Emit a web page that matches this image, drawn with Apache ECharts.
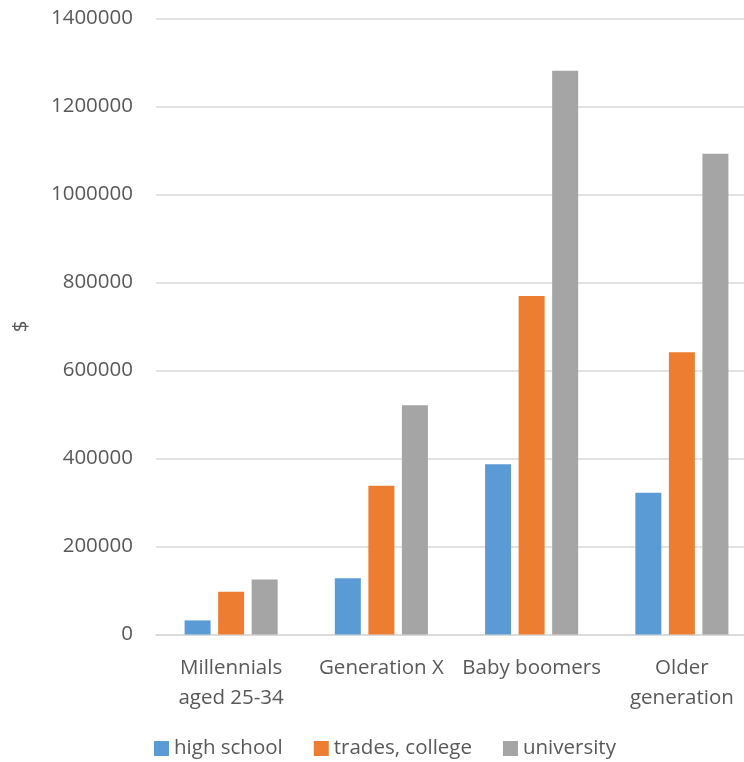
<!DOCTYPE html>
<html>
<head>
<meta charset="utf-8">
<script src="https://cdn.jsdelivr.net/npm/echarts@6/dist/echarts.min.js"></script>
<style>
  html, body { margin: 0; padding: 0; background: #fff; overflow: hidden; }
  body { width: 744px; height: 762px; }
  /* the plot area runs a little past the right edge of the page */
  #chart { width: 757px; height: 762px; }
</style>
</head>
<body>
<div id="chart"></div>
<script>
// Generations on the category axis
const categories = ['Millennials\naged 25-34', 'Generation X', 'Baby boomers', 'Older\ngeneration'];

// Amounts in dollars by education level
const highSchool = [32000, 128000, 387000, 322000];
const tradesCollege = [97000, 338000, 769000, 641000];
const university = [125000, 521000, 1281000, 1092000];

const seriesNames = ['high school', 'trades, college', 'university'];
const yTicks = { min: 0, max: 1400000, interval: 200000 };

const textColor = '#595959';
const fontFamily = '"Open Sans", sans-serif';
const fontSize = 20.5;

const chart = echarts.init(document.getElementById('chart'), null, { renderer: 'canvas' });

chart.setOption({
  animation: false,
  color: ['#5B9BD5', '#ED7D31', '#A5A5A5'],
  textStyle: { fontFamily: fontFamily, color: textColor },
  grid: { left: 156, top: 18.3, right: 0, bottom: 127.5 },
  legend: {
    data: seriesNames,
    left: 154,
    top: 738,
    padding: 0,
    itemWidth: 15,
    itemHeight: 15,
    itemGap: 31,
    icon: 'rect',
    textStyle: { fontSize: fontSize, color: textColor, fontFamily: fontFamily }
  },
  xAxis: {
    type: 'category',
    data: categories,
    axisLine: { lineStyle: { color: '#D9D9D9', width: 1.5 } },
    axisTick: { show: false },
    axisLabel: {
      color: textColor,
      fontSize: fontSize,
      lineHeight: 30,
      margin: 19,
      interval: 0,
      fontFamily: fontFamily
    }
  },
  yAxis: {
    type: 'value',
    min: yTicks.min,
    max: yTicks.max,
    interval: yTicks.interval,
    name: '$',
    nameLocation: 'middle',
    nameGap: 124,
    nameRotate: 90,
    nameTextStyle: { fontSize: fontSize, color: textColor, fontFamily: fontFamily },
    axisLine: { show: false },
    axisTick: { show: false },
    axisLabel: {
      color: textColor,
      fontSize: fontSize,
      margin: 23,
      fontFamily: fontFamily,
      formatter: (v) => String(v)
    },
    splitLine: { lineStyle: { color: '#D9D9D9', width: 1.5 } }
  },
  series: [
    { name: seriesNames[0], type: 'bar', data: highSchool, barWidth: 26, barGap: '29%' },
    { name: seriesNames[1], type: 'bar', data: tradesCollege, barWidth: 26, barGap: '29%' },
    { name: seriesNames[2], type: 'bar', data: university, barWidth: 26, barGap: '29%' }
  ]
});
</script>
</body>
</html>
